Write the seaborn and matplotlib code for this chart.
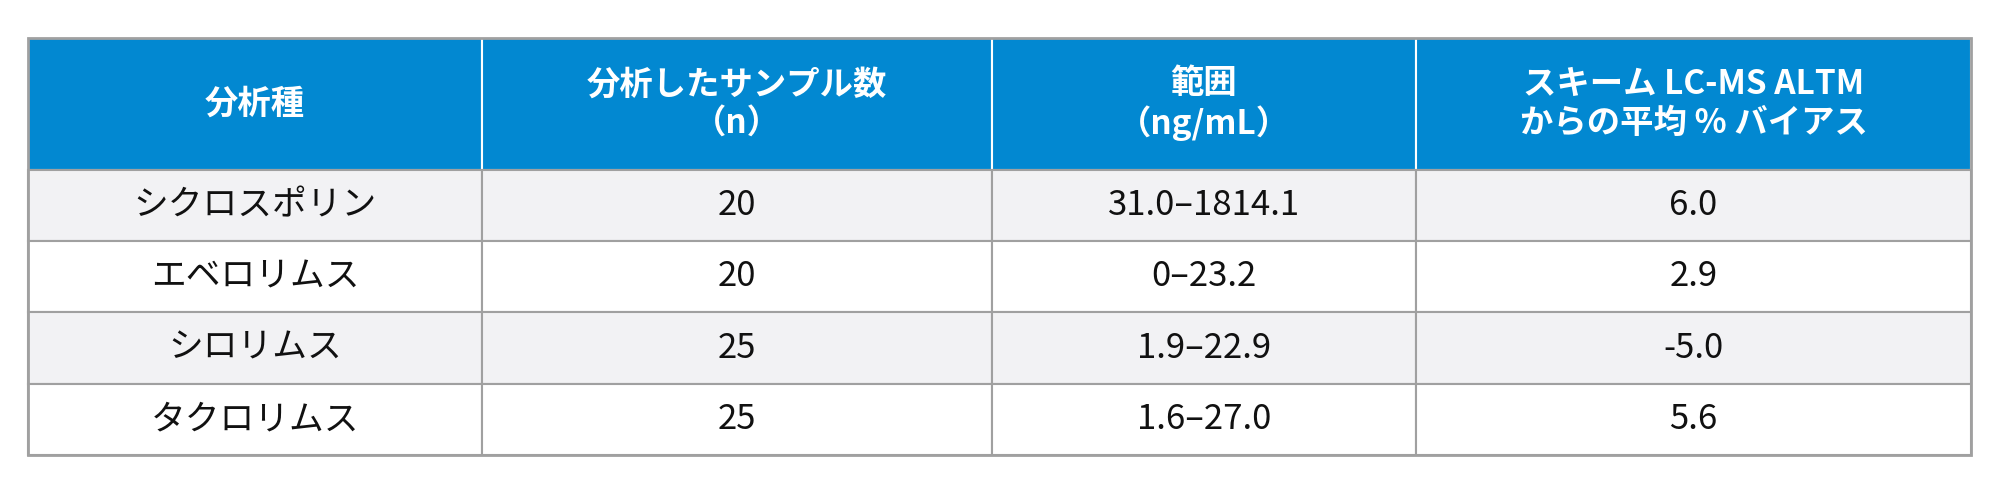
import matplotlib
matplotlib.use("Agg")
import matplotlib.pyplot as plt
from matplotlib.patches import Rectangle
import seaborn as sns

headers = ["分析種", "分析したサンプル数\n（n）", "範囲\n（ng/mL）", "スキーム LC-MS ALTM\nからの平均 % バイアス"]
analytes = ["シクロスポリン", "エベロリムス", "シロリムス", "タクロリムス"]
n_samples = ["20", "20", "25", "25"]
ranges = ["31.0–1814.1", "0–23.2", "1.9–22.9", "1.6–27.0"]
bias = ["6.0", "2.9", "-5.0", "5.6"]

sns.set_theme(style="white")
plt.rcParams["font.family"] = ["Noto Sans CJK JP", "DejaVu Sans"]

col_edges = [28, 482, 992, 1416, 1971]
row_edges = [38, 170, 241, 312, 384, 455]
header_color = "#0288D1"
stripe = ["#F2F2F4", "#FFFFFF"]
border = "#A0A0A0"

fig = plt.figure(figsize=(20, 4.97), dpi=100)
ax = fig.add_axes([0, 0, 1, 1])
ax.set_xlim(0, 2000)
ax.set_ylim(497, 0)
ax.axis("off")

# header row
for j, h in enumerate(headers):
    x0, x1 = col_edges[j], col_edges[j + 1]
    ax.add_patch(Rectangle((x0, row_edges[0]), x1 - x0, row_edges[1] - row_edges[0],
                           facecolor=header_color, edgecolor="white", lw=1.5))
    ax.text((x0 + x1) / 2, (row_edges[0] + row_edges[1]) / 2, h, color="white",
            fontsize=24, fontweight="bold", ha="center", va="center", linespacing=1.2)

rows = list(zip(analytes, n_samples, ranges, bias))
for i, row in enumerate(rows):
    y0, y1 = row_edges[i + 1], row_edges[i + 2]
    for j, val in enumerate(row):
        x0, x1 = col_edges[j], col_edges[j + 1]
        ax.add_patch(Rectangle((x0, y0), x1 - x0, y1 - y0, facecolor=stripe[i % 2],
                               edgecolor=border, lw=1.5))
        ax.text((x0 + x1) / 2, (y0 + y1) / 2, val, color="#111111", fontsize=25,
                ha="center", va="center")

# outer frame
ax.add_patch(Rectangle((col_edges[0], row_edges[0]), col_edges[-1] - col_edges[0],
                       row_edges[-1] - row_edges[0], fill=False, edgecolor=border, lw=2))

fig.savefig("out.png", dpi=100)
